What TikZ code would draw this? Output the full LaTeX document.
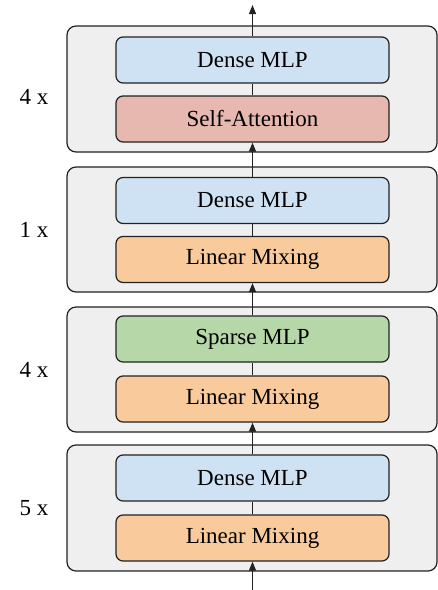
\documentclass[tikz,border=0pt]{standalone}
\usepackage{fontspec}
\setmainfont{Liberation Serif}
\usetikzlibrary{arrows.meta}
\definecolor{outerfill}{HTML}{EFEFEF}
\definecolor{densec}{HTML}{CFE2F3}
\definecolor{attnc}{HTML}{E6B8AF}
\definecolor{linc}{HTML}{F9CB9C}
\definecolor{sparsec}{HTML}{B6D7A8}
\definecolor{edge}{HTML}{222222}
\begin{document}
\begin{tikzpicture}[x=1pt,y=-1pt,
  outerbox/.style={draw=edge,line width=1.2pt,fill=outerfill,rounded corners=9pt},
  inner/.style={draw=edge,line width=1.2pt,rounded corners=7pt,minimum width=273pt,minimum height=46pt,inner sep=0pt,font=\rmfamily\fontsize{23}{27}\selectfont},
  lbl/.style={font=\rmfamily\fontsize{23}{27}\selectfont},
  arr/.style={draw=edge,line width=1.2pt,-{Triangle[length=9pt,width=7pt]}},
  ln/.style={draw=edge,line width=1.2pt}]
\useasboundingbox (0,0) rectangle (438,590);
% outer boxes
\draw[outerbox] (67,26) rectangle (437,152);
\draw[outerbox] (67,167) rectangle (437,292);
\draw[outerbox] (67,307) rectangle (437,432);
\draw[outerbox] (67,445) rectangle (437,571);
% inner boxes
\node[inner,fill=densec] (d1) at (252.5,60) {Dense MLP};
\node[inner,fill=attnc] (a1) at (252.5,119) {Self-Attention};
\node[inner,fill=densec] (d2) at (252.5,200.5) {Dense MLP};
\node[inner,fill=linc] (l2) at (252.5,259.5) {Linear Mixing};
\node[inner,fill=sparsec] (s3) at (252.5,339) {Sparse MLP};
\node[inner,fill=linc] (l3) at (252.5,399) {Linear Mixing};
\node[inner,fill=densec] (d4) at (252.5,478) {Dense MLP};
\node[inner,fill=linc] (l4) at (252.5,538) {Linear Mixing};
% labels
\node[lbl] (n1) at (34,97) {4 x};
\node[lbl] (n2) at (34,230) {1 x};
\node[lbl] (n3) at (34,370) {4 x};
\node[lbl] (n4) at (34,508) {5 x};
% connectors
\coordinate (top) at (252.5,5);
\coordinate (bot) at (252.5,590);
\draw[arr] (d1.north) -- (top);
\draw[ln] (a1.north) -- (d1.south);
\draw[arr] (d2.north) -- (a1.south);
\draw[ln] (l2.north) -- (d2.south);
\draw[arr] (s3.north) -- (l2.south);
\draw[ln] (l3.north) -- (s3.south);
\draw[arr] (d4.north) -- (l3.south);
\draw[ln] (l4.north) -- (d4.south);
\draw[arr] (bot) -- (l4.south);
\end{tikzpicture}
\end{document}
